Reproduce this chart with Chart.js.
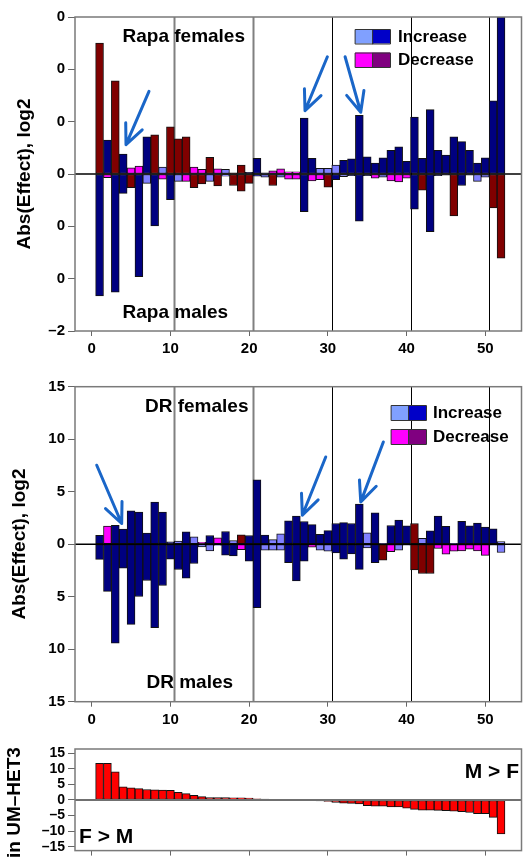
<!DOCTYPE html>
<html>
<head>
<meta charset="utf-8">
<script src="https://cdn.jsdelivr.net/npm/chart.js@4.4.1/dist/chart.umd.min.js"></script>
<style>
body { margin: 0; background: #fff; }
#wrap { position: relative; width: 526px; height: 862px; overflow: hidden; background: #fff; }
canvas { position: absolute; left: 0; }
</style>
</head>
<body>
<div id="wrap">
  <canvas id="rapaChart" width="526" height="360" style="top:0px"></canvas>
  <canvas id="drChart" width="526" height="370" style="top:360px"></canvas>
  <canvas id="hetChart" width="526" height="132" style="top:730px"></canvas>
</div>
<script>
// bar positions along the x axis
const geneIndex = [1,2,3,4,5,6,7,8,9,10,11,12,13,14,15,16,17,18,19,20,21,22,23,24,25,26,
                   27,28,29,30,31,32,33,34,35,36,37,38,39,40,41,42,43,44,45,46,47,48,49,50,51,52];

// Rapa panel (in tick units, females up / males down)
const rapaFemales = [2.50,0.65,1.78,0.38,0.12,0.15,0.71,0.75,0.13,0.90,
                     0.67,0.71,0.13,0.09,0.32,0.10,0.09,0.02,0.17,0.03,
                     0.30,0.02,0.06,0.10,0.04,0.04,1.07,0.30,0.11,0.11,
                     0.17,0.26,0.29,1.12,0.33,0.21,0.31,0.45,0.52,0.24,
                     1.09,0.30,1.23,0.45,0.36,0.71,0.62,0.45,0.21,0.31,
                     1.40,3.00];
const rapaFemaleSig = ('DNDNMMNDLD' + 'DDMMDMLDDN' + 'NLMMMMNNLL' + 'LNNNNNNNNN' + 'NNNNNNNNNN' + 'NN').split('');
const rapaMales = [2.33,0.07,2.26,0.37,0.26,1.96,0.18,0.99,0.10,0.49,
                   0.14,0.14,0.26,0.19,0.14,0.23,0.04,0.22,0.33,0.18,
                   0.04,0.06,0.22,0.06,0.10,0.10,0.72,0.13,0.11,0.25,
                   0.11,0.05,0.03,0.90,0.03,0.08,0.06,0.13,0.15,0.08,
                   0.67,0.31,1.10,0.03,0.02,0.80,0.22,0.02,0.14,0.06,
                   0.65,1.61];
const rapaMaleSig = ('NMNNDNLNMN' + 'LMDDLDLDDD' + 'NLDLMMNMMD' + 'NLNNNMLMMM' + 'NDNNNDNNLL' + 'DD').split('');

// DR panel
const drFemales = [0.85,1.73,1.80,1.45,3.19,3.05,1.07,4.02,3.07,0.22,
                   0.30,1.17,0.70,0.19,0.83,0.60,1.21,0.35,0.89,0.83,
                   6.13,0.86,0.44,0.98,2.22,2.67,2.16,1.87,0.95,1.30,
                   1.97,2.06,1.97,3.81,1.08,2.98,0.06,1.78,2.29,1.75,
                   1.97,0.57,1.27,2.67,1.71,0.06,2.19,1.75,2.00,1.62,
                   1.46,0.25];
const drFemaleSig = ('NMNNNNNNNN' + 'LNLMNMNLDN' + 'NNLLNNNNNN' + 'NNNNLNNNNN' + 'DLNNNNNNNN' + 'NL').split('');
const drMales = [1.44,4.50,9.43,2.28,7.63,4.98,3.46,7.95,3.93,1.43,
                 2.41,3.24,1.84,0.25,0.65,0.12,1.05,1.11,0.51,1.62,
                 6.05,0.57,0.57,0.57,1.75,3.50,1.62,0.28,0.57,0.67,
                 0.83,1.43,0.93,2.40,0.35,1.75,1.52,0.70,0.57,0.10,
                 2.45,2.79,2.79,0.41,0.95,0.67,0.63,0.48,0.63,1.07,
                 0.10,0.79];
const drMaleSig = ('NNNNNNNNNN' + 'NNNLLLNNMN' + 'NLLLNNNMLL' + 'NNNNLNDMLN' + 'DDDMMMMMMM' + 'NL').split('');

// UM-HET3 sex difference, sorted
const hetDiff = [11.75,11.75,9.0,4.2,3.9,3.6,3.35,3.25,3.15,3.05,
                 2.4,2.0,1.5,1.05,0.75,0.75,0.75,0.72,0.65,0.6,
                 0.4,0.3,0.15,0.1,0.05,-0.05,-0.1,-0.2,-0.3,-0.5,
                 -0.8,-1.0,-1.1,-1.3,-1.8,-2.0,-2.0,-2.2,-2.2,-2.6,
                 -3.0,-3.25,-3.25,-3.35,-3.45,-3.55,-3.75,-4.0,-4.4,-4.4,
                 -5.55,-10.9];

// ticks
const xTicks = [0,10,20,30,40,50];
const rapaTicks = [-3,-2,-1,0,1,2,3];
const rapaTickLabels = ['\u20132','0','0','0','0','0','0'];
const drTicks = [-15,-10,-5,0,5,10,15];
const drTickLabels = ['15','10','5','0','5','10','15'];
const hetTicks = [-15,-10,-5,0,5,10,15];
const hetTickLabels = ['\u201315','\u201310','\u20135','0','5','10','15'];
const groupLines = [10.5,20.5,30.5,40.5,50.5];

// arrows [x0, y0, x1, y1] in data units
const rapaArrows = [[7.28,1.58,4.36,0.56],[29.94,2.24,27.10,1.21],[32.19,2.24,34.18,1.18]];
const drArrows = [[0.64,7.52,3.81,1.97],[29.73,8.31,26.76,2.76],[37.05,9.74,34.18,4.03]];

Chart.defaults.font.family = '"Liberation Sans", Arial, sans-serif';
Chart.defaults.font.weight = 'bold';
Chart.defaults.color = '#000';

const sigColors = { N: '#000080', L: '#8080ff', M: '#ff00ff', D: '#800000' };
const FONT = '"Liberation Sans", Arial, sans-serif';

function barSet(values, colors, sign) {
  return {
    data: geneIndex.map((g, i) => ({ x: g, y: sign * values[i] })),
    backgroundColor: colors,
    borderColor: '#111',
    borderWidth: 1,
    borderSkipped: false,
    barPercentage: 1,
    categoryPercentage: 1,
    grouped: false
  };
}

function drawArrow(ctx, x0, y0, x1, y1) {
  const ang = Math.atan2(y1 - y0, x1 - x0);
  const head = 22, spread = 0.42;
  ctx.beginPath();
  ctx.moveTo(x0, y0);
  ctx.lineTo(x1, y1);
  ctx.moveTo(x1 - head * Math.cos(ang - spread), y1 - head * Math.sin(ang - spread));
  ctx.lineTo(x1, y1);
  ctx.lineTo(x1 - head * Math.cos(ang + spread), y1 - head * Math.sin(ang + spread));
  ctx.stroke();
}

// frame, separators, zero line, labels, legend, arrows
const decor = {
  id: 'decor',
  beforeDatasetsDraw(chart, args, o) {
    const { ctx, chartArea: a, scales: { x } } = chart;
    ctx.save();
    (o.lines || []).forEach((v, i) => {
      const px = Math.round(x.getPixelForValue(v)) + 0.5;
      ctx.strokeStyle = o.lineColors[i];
      ctx.lineWidth = o.lineWidths[i];
      ctx.beginPath();
      ctx.moveTo(px, a.top);
      ctx.lineTo(px, a.bottom);
      ctx.stroke();
    });
    ctx.restore();
  },
  afterDatasetsDraw(chart, args, o) {
    const { ctx, chartArea: a, scales: { x, y } } = chart;
    ctx.save();
    // zero line
    const y0 = y.getPixelForValue(0);
    ctx.strokeStyle = o.zeroColor;
    ctx.lineWidth = o.zeroWidth;
    ctx.beginPath();
    ctx.moveTo(a.left, y0);
    ctx.lineTo(a.right, y0);
    ctx.stroke();
    // plot frame
    ctx.strokeStyle = '#7a7a7a';
    ctx.lineWidth = 1.5;
    ctx.strokeRect(a.left, a.top, a.right - a.left, a.bottom - a.top);
    // arrows
    ctx.strokeStyle = '#1a66c8';
    ctx.lineWidth = 3;
    ctx.lineCap = 'round';
    ctx.lineJoin = 'round';
    (o.arrows || []).forEach(ar => {
      drawArrow(ctx, x.getPixelForValue(ar[0]), y.getPixelForValue(ar[1]),
                x.getPixelForValue(ar[2]), y.getPixelForValue(ar[3]));
    });
    // panel labels
    ctx.fillStyle = '#000';
    ctx.textBaseline = 'alphabetic';
    (o.texts || []).forEach(t => {
      ctx.font = 'bold ' + t.size + 'px ' + FONT;
      ctx.textAlign = t.align || 'left';
      ctx.fillText(t.text, t.x, t.y);
    });
    // legend with double colour boxes
    if (o.legend) {
      const L = o.legend;
      ctx.font = 'bold ' + L.size + 'px ' + FONT;
      ctx.textAlign = 'left';
      ctx.textBaseline = 'middle';
      L.rows.forEach((r, i) => {
        const top = L.y + i * L.rowGap;
        r.colors.forEach((c, j) => {
          ctx.fillStyle = c;
          ctx.fillRect(L.x + j * L.boxW, top, L.boxW, L.boxH);
          ctx.strokeStyle = '#333';
          ctx.lineWidth = 1;
          ctx.strokeRect(L.x + j * L.boxW + 0.5, top + 0.5, L.boxW, L.boxH);
        });
        ctx.fillStyle = '#000';
        ctx.fillText(r.label, L.textX, top + L.boxH / 2 + 1);
      });
    }
    // rotated axis title
    if (o.title) {
      const T = o.title;
      ctx.translate(T.x, T.y);
      ctx.rotate(-Math.PI / 2);
      ctx.font = 'bold ' + T.size + 'px ' + FONT;
      ctx.textAlign = T.align;
      ctx.textBaseline = 'middle';
      ctx.fillStyle = '#000';
      ctx.fillText(T.text, 0, 0);
    }
    ctx.restore();
  }
};

function axisOptions(yMin, yMax, yTicks, yLabels, showX, xHeight, tickFont) {
  return {
    x: {
      type: 'linear', min: -2.12, max: 54.6, offset: false,
      afterBuildTicks: s => { s.ticks = xTicks.map(v => ({ value: v })); },
      afterFit: s => { s.height = xHeight; },
      grid: { display: true, offset: false, drawOnChartArea: false, drawTicks: true, tickLength: 5, color: '#666' },
      border: { display: false },
      ticks: { display: showX, autoSkip: false, padding: 4, maxRotation: 0, font: { size: 15, weight: 'bold' }, color: '#000' }
    },
    y: {
      min: yMin, max: yMax,
      afterBuildTicks: s => { s.ticks = yTicks.map(v => ({ value: v })); },
      afterFit: s => { s.width = 75; },
      grid: { display: true, drawOnChartArea: false, drawTicks: true, tickLength: 7, color: '#666' },
      border: { display: false },
      ticks: {
        autoSkip: false, padding: 3, font: { size: tickFont, weight: 'bold' }, color: '#000',
        callback: v => yLabels[yTicks.indexOf(v)]
      }
    }
  };
}

const sepColors = ['#808080','#808080','#000','#000','#000'];
const sepWidths = [2,2,1,1,1];
const legendRows = [
  { colors: ['#80a0ff','#0000c8'], label: 'Increase' },
  { colors: ['#ff00ff','#800080'], label: 'Decrease' }
];

// Rapa panel
new Chart(document.getElementById('rapaChart'), {
  type: 'bar',
  data: { datasets: [
    barSet(rapaFemales, rapaFemaleSig.map(s => sigColors[s]), 1),
    barSet(rapaMales, rapaMaleSig.map(s => sigColors[s]), -1)
  ] },
  options: {
    responsive: false, animation: false, devicePixelRatio: 1,
    layout: { padding: { top: 17, right: 4.5, left: 0, bottom: 0 } },
    scales: axisOptions(-3, 3, rapaTicks, rapaTickLabels, true, 29, 15),
    plugins: {
      legend: { display: false }, tooltip: { enabled: false },
      decor: {
        lines: groupLines, lineColors: sepColors, lineWidths: sepWidths,
        zeroColor: '#000', zeroWidth: 1.5,
        arrows: rapaArrows,
        texts: [
          { text: 'Rapa females', x: 122.5, y: 41.5, size: 19 },
          { text: 'Rapa males', x: 122.5, y: 318, size: 19 }
        ],
        legend: { x: 355, y: 29, boxW: 17.5, boxH: 14.5, rowGap: 23.5, textX: 398, size: 17, rows: legendRows },
        title: { text: 'Abs(Effect), log2', x: 25, y: 174, size: 19, align: 'center' }
      }
    }
  },
  plugins: [decor]
});

// DR panel
new Chart(document.getElementById('drChart'), {
  type: 'bar',
  data: { datasets: [
    barSet(drFemales, drFemaleSig.map(s => sigColors[s]), 1),
    barSet(drMales, drMaleSig.map(s => sigColors[s]), -1)
  ] },
  options: {
    responsive: false, animation: false, devicePixelRatio: 1,
    layout: { padding: { top: 26.7, right: 4.5, left: 0, bottom: 0 } },
    scales: axisOptions(-15, 15, drTicks, drTickLabels, true, 28.3, 15),
    plugins: {
      legend: { display: false }, tooltip: { enabled: false },
      decor: {
        lines: groupLines, lineColors: sepColors, lineWidths: sepWidths,
        zeroColor: '#000', zeroWidth: 1.5,
        arrows: drArrows,
        texts: [
          { text: 'DR females', x: 145, y: 51.7, size: 19 },
          { text: 'DR males', x: 146.5, y: 328, size: 19 }
        ],
        legend: { x: 391, y: 45, boxW: 17.5, boxH: 15, rowGap: 24, textX: 433, size: 17, rows: legendRows },
        title: { text: 'Abs(Effect), log2', x: 20, y: 184, size: 19, align: 'center' }
      }
    }
  },
  plugins: [decor]
});

// UM-HET3 panel
new Chart(document.getElementById('hetChart'), {
  type: 'bar',
  data: { datasets: [{
    data: geneIndex.map((g, i) => ({ x: g, y: hetDiff[i] })),
    backgroundColor: '#ff0000',
    borderColor: '#111',
    borderWidth: 1,
    borderSkipped: false,
    barPercentage: 1,
    categoryPercentage: 1
  }] },
  options: {
    responsive: false, animation: false, devicePixelRatio: 1,
    layout: { padding: { top: 19, right: 4.5, left: 0, bottom: 0 } },
    scales: axisOptions(-16.2, 16.3, hetTicks, hetTickLabels, false, 9.7, 14),
    plugins: {
      legend: { display: false }, tooltip: { enabled: false },
      decor: {
        zeroColor: '#707070', zeroWidth: 2,
        texts: [
          { text: 'M > F', x: 519, y: 48, size: 21, align: 'right' },
          { text: 'F > M', x: 79, y: 113, size: 21 }
        ],
        title: { text: 'in UM\u2013HET3', x: 15, y: 128, size: 19, align: 'left' }
      }
    }
  },
  plugins: [decor]
});
</script>
</body>
</html>
